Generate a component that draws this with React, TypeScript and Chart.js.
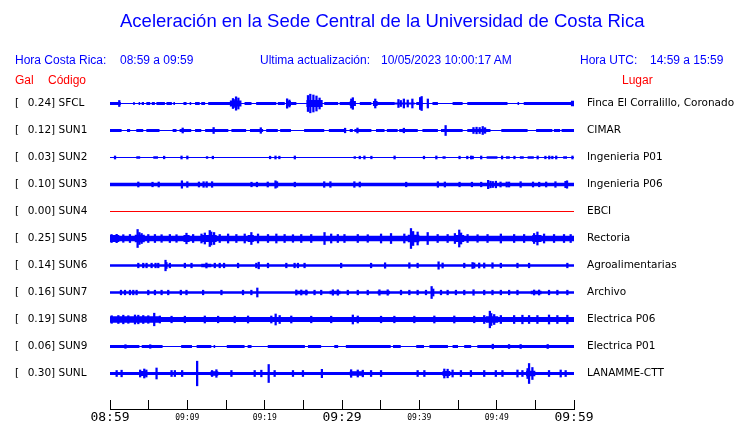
import React, { useEffect, useRef } from 'react';
import { Chart, registerables } from 'chart.js';

Chart.register(...registerables);

// ---------------- data ----------------
const stationCodes = ['SFCL', 'SUN1', 'SUN2', 'SUN3', 'SUN4', 'SUN5', 'SUN6', 'SUN7', 'SUN8', 'SUN9', 'SUNL'];
const stationPga = [0.24, 0.12, 0.03, 0.10, 0.00, 0.25, 0.14, 0.16, 0.19, 0.06, 0.30];
const stationPlaces = [
  'Finca El Corralillo, Coronado', 'CIMAR', 'Ingenieria P01', 'Ingenieria P06', 'EBCI',
  'Rectoria', 'Agroalimentarias', 'Archivo', 'Electrica P06', 'Electrica P01', 'LANAMME-CTT',
];

// time axis (minutes after 08:59)
const timeTickValues = [0, 10, 20, 30, 40, 50, 60];
const timeTickLabels = ['08:59', '09:09', '09:19', '09:29', '09:39', '09:49', '09:59'];
const majorTimeTicks = [0, 30, 60];

// background noise level of each trace (half amplitude, trace units; 27 units = one row)
const noiseLevel = [0.6, 0.6, 0.6, 1.7, 0, 2.8, 1.35, 1.35, 2.5, 0.6, 1.6];
// typical level of the noisy blocks
const blockLevel = [1.4, 1.4, 1.3, 1.7, 0, 3.6, 1.8, 1.8, 3.0, 1.4, 2.5];

// noisy intervals: [start min, end min, (half amplitude)]
const sfclBlocks = [
  [0, 1.4], [3.0, 3.2], [3.7, 3.9], [4.1, 4.4], [4.7, 5.2], [5.4, 5.8], [6.0, 7.1], [7.3, 8.0], [8.2, 8.4],
  [9.5, 9.9], [10.3, 10.5], [11.0, 11.6], [11.8, 12.3], [12.7, 15.5], [15.5, 17.0, 3], [17.4, 18.3],
  [18.9, 21.5], [21.7, 22.6], [22.8, 23.4, 2.5], [23.4, 24.1], [25.4, 27.5, 3.5], [27.7, 29.5], [29.7, 31.0],
  [31.0, 31.8, 2.5], [32.3, 33.8], [34.0, 34.6, 2.5], [34.6, 36.8], [36.8, 39.4, 1.0], [39.6, 40.0],
  [40.0, 40.4, 3], [41.7, 42.4], [44.3, 45.6], [46.2, 51.4], [52.7, 52.9], [53.5, 59.6], [59.6, 60, 2.7],
];
const sun1Blocks = [
  [0, 1.5], [2.2, 2.6], [3.4, 4.3], [4.7, 6.4], [8.1, 8.6], [9.0, 10.5], [11.0, 11.8], [12.3, 15.3],
  [15.7, 17.6], [18.1, 19.8], [20.2, 21.7], [22.0, 23.4], [25.1, 27.7], [28.3, 30.5], [31.0, 31.4],
  [31.6, 33.8], [34.4, 35.5], [35.8, 37.2], [37.4, 39.8], [40.4, 42.4], [42.8, 45.6], [46.2, 49.2, 1.6],
  [50.6, 54.0], [55.1, 57.2], [57.4, 58.2], [58.4, 60],
];
const sun2Blocks = [
  [3.4, 3.9], [5.6, 6.2], [12.4, 12.7], [31.5, 31.8], [43.0, 43.4], [48.7, 50.1], [51.2, 51.7],
  [53.0, 53.5], [54.0, 54.8], [58.6, 59.1],
];
const sun3Blocks = [];
const sun4Blocks = [];
const sun5Blocks = [
  [0, 1.2, 3.6], [3.2, 4.5, 3.8], [9.5, 10.3, 3.5], [11.8, 13.8, 3.6], [17.8, 18.6, 3.4],
  [38.5, 40.0, 3.8], [44.6, 45.8, 3.6], [54.6, 55.8, 3.6],
];
const sun6Blocks = [[11.8, 13.1]];
const sun7Blocks = [[24.0, 25.6], [28.4, 29.8], [34.6, 36.2], [54.4, 55.8]];
const sun8Blocks = [[0, 6.5, 3.2], [48.6, 50.2, 3.2]];
const sun9Blocks = [
  [0, 3.8], [4.1, 6.8], [9.2, 10.6], [11.2, 13.1], [13.4, 13.6], [15.1, 17.4], [17.8, 18.3], [20.4, 25.2],
  [25.6, 27.3], [29.0, 29.5], [30.5, 36.3], [36.6, 37.6], [39.6, 40.6], [41.3, 43.7], [44.3, 45.0],
  [45.8, 46.7], [47.5, 60, 1.6],
];
const sunlBlocks = [[3.8, 4.8], [13.0, 14.0, 2.3], [31.0, 32.8, 2.3], [43.0, 44.0], [53.8, 55.0, 2.8]];

// peaks: [minute, half amplitude]
const sfclPeaks = [
  [1.2, 3], [15.9, 5], [16.0, 4], [16.3, 6.7], [16.6, 5.5], [22.9, 4.7], [23.2, 3.5], [25.6, 8], [25.9, 9.3],
  [26.3, 8.5], [26.7, 7.5], [27.1, 5.5], [31.2, 4.5], [31.4, 5.8], [34.3, 4.5], [37.3, 4], [37.6, 3],
  [38.0, 4.5], [38.5, 3.5], [39.1, 4.5], [40.1, 6], [40.3, 7], [41.1, 4.5],
];
const sun1Peaks = [
  [9.4, 2.5], [13.4, 3], [19.5, 2.8], [30.4, 2.3], [32.0, 2.5], [38.0, 2.3], [43.4, 5], [47.0, 3],
  [47.4, 3.3], [47.8, 3], [48.2, 4], [48.5, 2.8],
];
const sun2Peaks = [
  [0.65, 1.5], [7.0, 1.3], [9.25, 1.5], [10.0, 1.5], [13.3, 1.3], [20.7, 1.3], [21.4, 1.5], [21.9, 1.3],
  [23.9, 1.5], [32.3, 1.3], [32.9, 1.5], [33.8, 1.3], [36.8, 1.5], [40.6, 1.3], [42.2, 1.5], [45.2, 1.3],
  [46.2, 1.3], [46.7, 1.5], [46.9, 1.3], [48.0, 1.5], [50.7, 1.5], [52.3, 1.3], [55.3, 1.5], [56.3, 1.3],
  [56.8, 1.5], [57.2, 1.3], [57.7, 1.5], [59.8, 1.5],
];
const sun3Peaks = [
  [3.66, 2.5], [5.5, 2.3], [6.3, 2.5], [9.3, 3.7], [10.0, 2.8], [11.5, 2.5], [12.1, 2.8], [12.5, 2.8],
  [13.2, 2.8], [18.3, 2.3], [19.0, 2.3], [20.4, 2.5], [21.4, 3.7], [21.6, 2.8], [23.9, 2.3], [27.7, 2.8],
  [28.5, 2.8], [31.6, 2.8], [32.3, 2.5], [38.3, 2.3], [42.4, 2.8], [43.3, 2.5], [45.2, 2.3], [46.8, 2.3],
  [48.0, 2.3], [48.9, 4.2], [49.2, 3.3], [49.5, 3], [49.9, 3.3], [50.5, 2.5], [51.3, 2.5], [51.6, 2.5],
  [53.1, 2.8], [54.7, 2.5], [55.5, 2.3], [56.4, 2.5], [57.6, 2.8], [58.9, 3.2], [59.1, 3.7],
];
const sun4Peaks = [];
const sun5Peaks = [
  [0.2, 4], [0.86, 4.2], [1.72, 3.8], [2.58, 4], [3.57, 9], [3.8, 6], [4.09, 5], [4.95, 4], [5.81, 4],
  [6.67, 3.8], [7.74, 4], [8.6, 3.8], [9.89, 5.3], [10.75, 4], [11.83, 4.5], [12.26, 5.5], [12.9, 8],
  [13.1, 6.5], [13.46, 6], [14.19, 4], [15.27, 4.5], [16.34, 4], [17.42, 4.5], [18.28, 6], [19.14, 4.5],
  [20.43, 4], [21.51, 4.5], [22.58, 4], [23.66, 3.8], [24.73, 4], [26.02, 4], [27.74, 6], [28.6, 4.5],
  [29.46, 4], [30.32, 4], [32.04, 4], [33.33, 3.8], [35.05, 4.5], [36.34, 5], [38.06, 4.5], [38.92, 10],
  [39.2, 7], [39.78, 6.5], [41.08, 6], [42.37, 4], [43.66, 4], [44.6, 5], [45.16, 8.5], [45.4, 5.5],
  [46.24, 4], [47.53, 3.8], [48.82, 4], [50.54, 4.5], [52.26, 4], [53.55, 4], [54.84, 5], [55.27, 6.5],
  [56.13, 4.5], [57.42, 4], [58.71, 4], [59.57, 4],
];
const sun6Peaks = [
  [3.66, 2.3], [4.3, 2.3], [4.73, 2.3], [5.38, 2.3], [5.89, 2.3], [6.24, 2.3], [7.18, 5.3], [7.3, 3],
  [7.74, 2.3], [9.68, 2.3], [10.54, 2.3], [12.47, 2.5], [13.55, 2.3], [14.19, 2.3], [14.75, 2.3],
  [16.56, 2.3], [18.92, 2.3], [19.23, 3.3], [20.43, 2.3], [22.8, 2.3], [23.87, 2.3], [24.3, 2.3],
  [25.16, 2.3], [29.89, 2.3], [33.76, 2.3], [35.57, 2.7], [38.71, 2.7], [39.78, 2.3], [42.49, 3.7],
  [43.01, 2.5], [45.81, 2.3], [46.88, 3], [47.1, 2.5], [47.74, 2.5], [48.39, 2.5], [49.46, 2.7],
  [50.54, 2.3], [52.69, 2.3], [54.19, 2.3], [59.14, 2.3],
];
const sun7Peaks = [
  [1.42, 2.3], [1.94, 2.3], [2.58, 2.3], [3.01, 2.3], [3.44, 2.3], [4.95, 2.3], [5.81, 2.3], [6.67, 2.3],
  [7.53, 2.3], [9.16, 2.3], [9.89, 2.3], [12.04, 2.3], [14.41, 2.3], [17.2, 2.3], [18.28, 2.3], [19.05, 4.5],
  [24.09, 2.5], [24.73, 2.5], [25.38, 2.5], [26.45, 2.3], [27.31, 2.3], [28.82, 2.7], [29.46, 2.7],
  [30.75, 2.3], [32.04, 2.3], [33.33, 2.3], [34.84, 2.7], [35.91, 2.7], [37.63, 2.3], [38.71, 2.3],
  [39.78, 2.3], [40.86, 2.3], [41.59, 6], [41.8, 3.5], [42.8, 2.3], [43.66, 2.3], [44.73, 2.3], [45.81, 2.3],
  [47.01, 2.7], [48.39, 2.3], [49.46, 2.3], [50.54, 2.3], [51.61, 2.3], [52.69, 2.3], [54.84, 2.5],
  [55.48, 2.5], [56.77, 2.3], [57.85, 2.3], [59.14, 2.3],
];
const sun8Peaks = [
  [0.22, 3.8], [1.08, 4], [1.72, 4.3], [2.37, 3.8], [3.23, 4.5], [3.66, 4.3], [4.3, 4], [4.95, 3.8],
  [5.72, 6.3], [6.45, 3.5], [7.96, 3.3], [9.68, 3.3], [12.26, 3.5], [13.98, 3.3], [16.13, 3.3], [17.85, 3.5],
  [20.86, 3.5], [21.42, 5.5], [21.94, 4], [23.44, 3.5], [26.02, 3.3], [28.6, 3.3], [31.4, 4.5], [32.04, 3.5],
  [35.05, 3.3], [36.77, 3.3], [39.35, 3.3], [41.94, 3.5], [44.52, 3.5], [47.1, 3.3], [48.39, 4], [49.12, 8.3],
  [49.3, 6], [49.68, 5], [50.54, 4], [52.26, 4], [53.33, 4.3], [54.19, 4], [55.27, 4], [56.77, 4.5],
  [57.85, 4], [59.14, 4.3],
];
const sun9Peaks = [[2.0, 1.8], [5.2, 1.8], [49.5, 2.3], [51.6, 2], [53.1, 2], [56.6, 2]];
const sunlPeaks = [
  [0.86, 3], [1.5, 3.3], [3.9, 3.5], [4.43, 4.5], [4.7, 3.5], [6.02, 5.5], [7.96, 3], [8.39, 3], [9.33, 3],
  [11.27, 12.3], [13.2, 3], [13.76, 3.8], [15.7, 3], [18.71, 3], [19.57, 3.3], [20.52, 9], [21.29, 3],
  [23.66, 3], [24.95, 3], [27.4, 4.2], [31.18, 3.8], [32.04, 3.5], [32.69, 3.3], [33.76, 3], [35.05, 3],
  [39.78, 3], [40.65, 3], [43.23, 4.5], [43.66, 4.3], [44.3, 3.5], [45.38, 3], [46.67, 3], [48.39, 3],
  [49.89, 3], [50.75, 3], [52.69, 3.5], [53.33, 3], [54.0, 5], [54.19, 10], [54.62, 6], [56.77, 3],
  [58.28, 3.5], [58.92, 3],
];

const blocksByStation = [sfclBlocks, sun1Blocks, sun2Blocks, sun3Blocks, sun4Blocks, sun5Blocks,
  sun6Blocks, sun7Blocks, sun8Blocks, sun9Blocks, sunlBlocks];
const peaksByStation = [sfclPeaks, sun1Peaks, sun2Peaks, sun3Peaks, sun4Peaks, sun5Peaks,
  sun6Peaks, sun7Peaks, sun8Peaks, sun9Peaks, sunlPeaks];

// ---------------- chart ----------------
const UNITS_PER_ROW = 27;
const BLUE = '#0000ff';
const RED = '#ff0000';
const LABEL_FONT = 'DejaVu Sans';
const HEAD_FONT = 'Liberation Sans';

// envelope corners (vertical jumps at block edges) built from the block list
function envelopeCorners(base: number, blocks: number[][], defLevel: number) {
  const pts: { x: number; h: number }[] = [{ x: 0, h: base }];
  const sorted = [...blocks].sort((a, b) => a[0] - b[0]);
  for (const b of sorted) {
    const h = b.length > 2 ? b[2] : defLevel;
    pts.push({ x: b[0], h: base });
    pts.push({ x: b[0], h });
    pts.push({ x: b[1], h });
    pts.push({ x: b[1], h: base });
  }
  pts.push({ x: 60, h: base });
  return pts;
}

function buildDatasets() {
  const ds: any[] = [];
  stationCodes.forEach((_, i) => {
    const flat = stationPga[i] === 0;
    // centre line of the trace
    ds.push({
      type: 'line', data: [{ x: 0, y: i }, { x: 60, y: i }], borderColor: flat ? RED : BLUE, borderWidth: 1,
      pointRadius: 0, fill: false,
    });
    if (flat) return;
    const pts = envelopeCorners(noiseLevel[i], blocksByStation[i], blockLevel[i]);
    ds.push({
      type: 'line', data: pts.map((s) => ({ x: s.x, y: i - s.h / UNITS_PER_ROW })),
      borderColor: 'rgba(0,0,0,0)', borderWidth: 0, pointRadius: 0, fill: false, tension: 0,
    });
    ds.push({
      type: 'line', data: pts.map((s) => ({ x: s.x, y: i + s.h / UNITS_PER_ROW })),
      borderColor: 'rgba(0,0,0,0)', borderWidth: 0, pointRadius: 0, tension: 0,
      fill: '-1', backgroundColor: BLUE,
    });
    ds.push({
      type: 'bar',
      data: peaksByStation[i].map(([t, a]) => ({ x: t, y: [i - a / UNITS_PER_ROW, i + a / UNITS_PER_ROW] })),
      backgroundColor: BLUE, borderWidth: 0, barThickness: 1.6, grouped: false,
    });
  });
  return ds;
}

const Y_MIN = -1 - 0.5 / UNITS_PER_ROW;
const Y_MAX = Y_MIN + 333 / UNITS_PER_ROW;

function rowTicks(scale: any) {
  scale.ticks = stationCodes.map((_, i) => ({ value: i }));
}

export default function App() {
  const ref = useRef<HTMLCanvasElement>(null);
  useEffect(() => {
    if (!ref.current) return;
    const chart = new Chart(ref.current, {
      type: 'bar',
      data: { datasets: buildDatasets() },
      options: {
        responsive: false,
        devicePixelRatio: 1,
        animation: false,
        events: [],
        layout: { padding: { left: 15, top: 76, right: 0, bottom: 0 } },
        plugins: { legend: { display: false }, tooltip: { enabled: false } },
        scales: {
          x: {
            type: 'linear', min: 0, max: 60, offset: false,
            afterFit: (s: any) => { s.height = 14; },
            border: { display: true, color: '#000', width: 1 },
            grid: { display: true, offset: false, drawOnChartArea: false, drawTicks: true, tickLength: -9, color: '#000' },
            ticks: {
              stepSize: 5, autoSkip: false, maxRotation: 0, minRotation: 0, padding: 10, color: '#000',
              callback: (v: any) => {
                const k = timeTickValues.indexOf(Number(v));
                return k >= 0 ? timeTickLabels[k] : '';
              },
              font: (ctx: any) => {
                const v = ctx.tick ? ctx.tick.value : 0;
                return majorTimeTicks.includes(v)
                  ? { family: 'DejaVu Sans Mono', size: 13, lineHeight: 1.2 }
                  : { family: 'DejaVu Sans Mono', size: 8, lineHeight: (1.2 * 13) / 8 };
              },
            },
          },
          y: {
            type: 'linear', position: 'left', reverse: true, min: Y_MIN, max: Y_MAX,
            afterFit: (s: any) => { s.width = 95; },
            afterBuildTicks: rowTicks,
            border: { display: false },
            grid: { display: false, drawTicks: false },
            ticks: {
              crossAlign: 'far', padding: 0, color: '#000', autoSkip: false,
              font: { family: LABEL_FONT, size: 10.5 },
              callback: (v: any) => {
                const i = Math.round(Number(v));
                return `[\u2002 ${stationPga[i].toFixed(2)}] ${stationCodes[i]}`;
              },
            },
          },
          y2: {
            type: 'linear', position: 'right', reverse: true, min: Y_MIN, max: Y_MAX,
            afterFit: (s: any) => { s.width = 166; },
            afterBuildTicks: rowTicks,
            border: { display: false },
            grid: { display: true, drawOnChartArea: false, drawTicks: true, tickLength: 13, color: 'rgba(0,0,0,0)' },
            ticks: {
              crossAlign: 'near', padding: 0, color: '#000', autoSkip: false,
              font: { family: LABEL_FONT, size: 10.5 },
              callback: (v: any) => stationPlaces[Math.round(Number(v))],
            },
          },
        },
      } as any,
    });
    return () => chart.destroy();
  }, []);

  const head = (text: string, left: number, top: number, color: string, size = 12) => (
    <span style={{
      position: 'absolute', left, top, color, fontFamily: HEAD_FONT, fontSize: size,
      lineHeight: `${size}px`, whiteSpace: 'pre',
    }}>{text}</span>
  );

  return (
    <div style={{ position: 'absolute', left: 0, top: 0, width: 740, height: 423, background: '#fff', overflow: 'hidden' }}>
      <canvas ref={ref} width={740} height={423} style={{ position: 'absolute', left: 0, top: 0 }} />
      {head('Aceleración en la Sede Central de la Universidad de Costa Rica', 120, 12, BLUE, 18.5)}
      {head('Hora Costa Rica:', 15, 54, BLUE)}
      {head('08:59 a 09:59', 120, 54, BLUE)}
      {head('Ultima actualización:', 260, 54, BLUE)}
      {head('10/05/2023 10:00:17 AM', 381, 54, BLUE)}
      {head('Hora UTC:', 580, 54, BLUE)}
      {head('14:59 a 15:59', 650, 54, BLUE)}
      {head('Gal', 15, 74, RED)}
      {head('Código', 48, 74, RED)}
      {head('Lugar', 622, 74, RED)}
    </div>
  );
}
